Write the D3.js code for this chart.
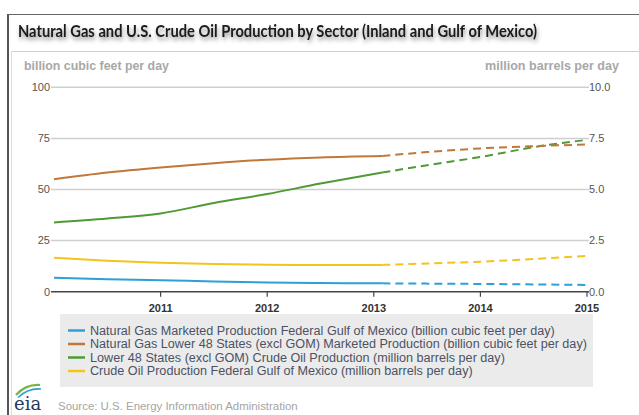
<!DOCTYPE html>
<html>
<head>
<meta charset="utf-8">
<script src="https://cdn.jsdelivr.net/npm/d3@7/dist/d3.min.js"></script>
<style>
  html, body { margin: 0; padding: 0; background: #fff; }
  svg { display: block; }
</style>
</head>
<body>
<svg id="chart" width="639" height="415"></svg>
<script>
// ---------- data ----------
const title = "Natural Gas and U.S. Crude Oil Production by Sector (Inland and Gulf of Mexico)";
const leftAxisTitle = "billion cubic feet per day";
const rightAxisTitle = "million barrels per day";
const source = "Source: U.S. Energy Information Administration";

const yearTicks = [2011, 2012, 2013, 2014, 2015];
const leftTicks = [0, 25, 50, 75, 100];
const rightTicks = [0, 2.5, 5, 7.5, 10];

const histYears = [2010, 2010.5, 2011, 2011.5, 2012, 2012.5, 2013.08];
const fcstYears = [2013.08, 2013.5, 2014, 2014.5, 2015];

// Natural Gas Marketed Production Federal GOM (bcf/d, left axis)
const gomGasHist = [6.8, 6.1, 5.6, 5.0, 4.5, 4.2, 4.1];
const gomGasFcst = [4.1, 3.95, 3.8, 3.55, 3.3];
// Natural Gas Lower 48 (excl GOM) Marketed Production (bcf/d, left axis)
const l48GasHist = [55.0, 58.3, 60.8, 62.9, 64.6, 65.7, 66.4];
const l48GasFcst = [66.4, 68.3, 70.1, 71.2, 72.0];
// Lower 48 (excl GOM) Crude Oil Production (mb/d, right axis)
const l48OilHist = [3.39, 3.58, 3.83, 4.34, 4.78, 5.29, 5.83];
const l48OilFcst = [5.83, 6.19, 6.59, 7.07, 7.43];
// Crude Oil Production Federal GOM (mb/d, right axis)
const gomOilHist = [1.66, 1.52, 1.42, 1.35, 1.32, 1.31, 1.31];
const gomOilFcst = [1.31, 1.38, 1.47, 1.60, 1.75];

const seriesNames = [
  "Natural Gas Marketed Production Federal Gulf of Mexico (billion cubic feet per day)",
  "Natural Gas Lower 48 States (excl GOM) Marketed Production (billion cubic feet per day)",
  "Lower 48 States (excl GOM) Crude Oil Production (million barrels per day)",
  "Crude Oil Production Federal Gulf of Mexico (million barrels per day)"
];
const seriesColors = ["#2d9fd9", "#c0773a", "#4f9a34", "#f3c41c"];

// ---------- layout ----------
const svg = d3.select("#chart");
const X0 = 54, X1 = 587, Y0 = 291.7, Y1 = 87.3;

const x = d3.scaleLinear().domain([2010, 2015]).range([X0, X1]);
const yL = d3.scaleLinear().domain([0, 100]).range([Y0, Y1]);
const yR = d3.scaleLinear().domain([0, 10]).range([Y0, Y1]);

const defs = svg.append("defs");
const f = defs.append("filter").attr("id", "shadow").attr("x", "-5%").attr("y", "-50%").attr("width", "110%").attr("height", "220%");
f.append("feDropShadow").attr("dx", 1).attr("dy", 3).attr("stdDeviation", 2.2).attr("flood-color", "#000").attr("flood-opacity", 0.45);

// frame
svg.append("line").attr("x1", 8).attr("x2", 8).attr("y1", 14).attr("y2", 415).attr("stroke", "#555").attr("stroke-width", 2);
svg.append("line").attr("x1", 8).attr("x2", 639).attr("y1", 14.5).attr("y2", 14.5).attr("stroke", "#666").attr("stroke-width", 1);
svg.append("line").attr("x1", 11).attr("x2", 639).attr("y1", 51.5).attr("y2", 51.5).attr("stroke", "#d0d0d0").attr("stroke-width", 1);
svg.append("line").attr("x1", 11.5).attr("x2", 11.5).attr("y1", 51).attr("y2", 415).attr("stroke", "#dcdcdc").attr("stroke-width", 1);

function fit(sel, w) {
  const n = sel.node();
  const len = n.getComputedTextLength();
  const fs = parseFloat(sel.attr("font-size"));
  sel.attr("font-size", (fs * w / len).toFixed(2));
}

// title
svg.append("text").attr("x", 18).attr("y", 37)
  .attr("font-family", "Lato, 'Open Sans', sans-serif").attr("font-weight", 700)
  .attr("font-size", 17).attr("fill", "#1a1a1a").attr("filter", "url(#shadow)")
  .attr("textLength", 519).attr("lengthAdjust", "spacingAndGlyphs").text(title);

// axis titles
const at1 = svg.append("text").attr("x", 24).attr("y", 70)
  .attr("font-family", "Arial, 'Liberation Sans', sans-serif").attr("font-weight", 700)
  .attr("font-size", 11).attr("fill", "#a8a8a8").text(leftAxisTitle);
fit(at1, 145);
const at2 = svg.append("text").attr("x", 619).attr("y", 70).attr("text-anchor", "end")
  .attr("font-family", "Arial, 'Liberation Sans', sans-serif").attr("font-weight", 700)
  .attr("font-size", 11).attr("fill", "#a8a8a8").text(rightAxisTitle);
fit(at2, 134);

// gridlines
svg.append("g").selectAll("line").data(leftTicks.filter(d => d > 0)).join("line")
  .attr("x1", X0 - 3).attr("x2", X1 + 2)
  .attr("y1", d => yL(d)).attr("y2", d => yL(d))
  .attr("stroke", "#cfcfcf").attr("stroke-width", 1.5);

// left axis labels
const axisFont = "Arial, 'Liberation Sans', sans-serif";
svg.append("g").selectAll("text").data(leftTicks).join("text")
  .attr("x", X0 - 4).attr("y", d => yL(d)).attr("dy", "0.35em")
  .attr("text-anchor", "end").attr("font-family", axisFont).attr("font-size", 11)
  .attr("fill", "#555").text(d => d3.format("d")(d));

// right axis labels
svg.append("g").selectAll("text").data(rightTicks).join("text")
  .attr("x", X1 + 2).attr("y", d => yR(d)).attr("dy", "0.35em")
  .attr("text-anchor", "start").attr("font-family", axisFont).attr("font-size", 11)
  .attr("fill", "#555").text(d => d3.format(".1f")(d));

// baseline and x axis
svg.append("line").attr("x1", X0 - 3).attr("x2", X1 + 2).attr("y1", Y0).attr("y2", Y0)
  .attr("stroke", "#444").attr("stroke-width", 1.5);
svg.append("g").selectAll("line").data(yearTicks).join("line")
  .attr("x1", d => x(d)).attr("x2", d => x(d)).attr("y1", Y0).attr("y2", Y0 + 5)
  .attr("stroke", "#444").attr("stroke-width", 1.2);
svg.append("g").selectAll("text").data(yearTicks).join("text")
  .attr("x", d => x(d)).attr("y", 312).attr("text-anchor", "middle")
  .attr("font-family", axisFont).attr("font-size", 11).attr("font-weight", 700)
  .attr("fill", "#333").text(d => d);

// lines
const series = [
  {hist: gomGasHist, fcst: gomGasFcst, y: yL},
  {hist: l48GasHist, fcst: l48GasFcst, y: yL},
  {hist: l48OilHist, fcst: l48OilFcst, y: yR},
  {hist: gomOilHist, fcst: gomOilFcst, y: yR}
];
const drawOrder = [3, 0, 2, 1];
drawOrder.forEach(i => {
  const s = series[i];
  const line = d3.line().x(d => x(d[0])).y(d => s.y(d[1])).curve(d3.curveMonotoneX);
  svg.append("path").datum(d3.zip(histYears, s.hist)).attr("d", line)
    .attr("fill", "none").attr("stroke", seriesColors[i]).attr("stroke-width", 2);
  svg.append("path").datum(d3.zip(fcstYears, s.fcst)).attr("d", line)
    .attr("fill", "none").attr("stroke", seriesColors[i]).attr("stroke-width", 2)
    .attr("stroke-dasharray", "8,5");
});

// legend
svg.append("rect").attr("x", 60).attr("y", 314).attr("width", 533).attr("height", 73).attr("fill", "#ebebeb");
const rowY = [330.5, 344, 357.5, 371];
const lg = svg.append("g").selectAll("g").data(seriesNames).join("g");
lg.append("line").attr("x1", 68).attr("x2", 85).attr("y1", (d, i) => rowY[i]).attr("y2", (d, i) => rowY[i])
  .attr("stroke", (d, i) => seriesColors[i]).attr("stroke-width", 2.5);
const lt = lg.append("text").attr("x", 90).attr("y", (d, i) => rowY[i]).attr("dy", "0.35em")
  .attr("font-family", axisFont).attr("font-size", 12).attr("fill", "#4b5263").text(d => d);
const longest = lt.nodes()[1].getComputedTextLength();
lt.attr("font-size", (12 * 497 / longest).toFixed(2));

// source + logo
const src = svg.append("text").attr("x", 58).attr("y", 406).attr("dy", "0.35em")
  .attr("font-family", axisFont).attr("font-size", 11).attr("fill", "#a5a5a5").text(source);
fit(src, 240);
const logo = svg.append("g");
logo.append("path").attr("d", "M16,395 Q26,384 40,385").attr("fill", "none").attr("stroke", "#7cb342").attr("stroke-width", 2.2);
logo.append("path").attr("d", "M18,397.5 Q28,388 41,389").attr("fill", "none").attr("stroke", "#2d9fd9").attr("stroke-width", 1.6);
logo.append("text").attr("x", 14).attr("y", 410).attr("font-family", "'DejaVu Serif', 'Liberation Serif', serif")
  .attr("font-size", 18).attr("fill", "#1f3a60").text("eia");
</script>
</body>
</html>
